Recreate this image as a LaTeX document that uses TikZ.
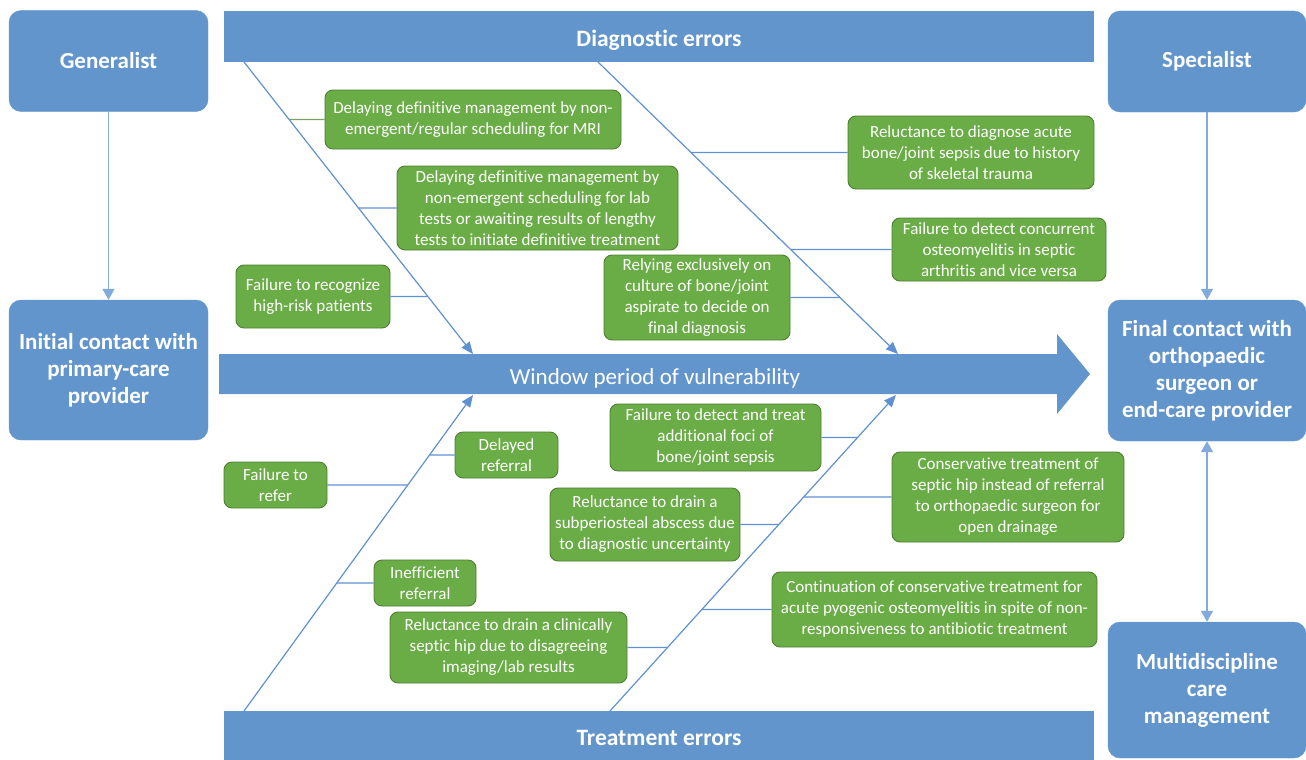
\documentclass[tikz,border=0pt]{standalone}
\usepackage{fontspec}
\setmainfont{Carlito}[Ligatures={NoCommon}]
\usetikzlibrary{arrows.meta}
\definecolor{fbblue}{RGB}{98,149,204}
\definecolor{fbline}{RGB}{95,145,210}
\definecolor{fbarrow}{RGB}{130,170,220}
\definecolor{fbgreen}{RGB}{106,173,70}
\definecolor{fbgreenD}{RGB}{80,126,50}
\definecolor{fbolive}{RGB}{125,160,105}
\begin{document}
\begin{tikzpicture}[x=1pt,y=-1pt,
  bluebox/.style={fill=fbblue, draw=fbblue, rounded corners=12pt, text=white,
    font=\bfseries\fontsize{23}{27}\selectfont, align=center, inner sep=0pt},
  bar/.style={fill=fbblue, text=white, font=\bfseries\fontsize{23.5}{27}\selectfont, inner sep=0pt,
    text height=20pt, text depth=0pt},
  gbox/.style={fill=fbgreen, draw=fbgreenD, line width=0.9pt, rounded corners=8pt, text=white,
    font=\fontsize{17}{21}\selectfont, align=center, inner sep=0pt},
  bone/.style={draw=fbline, line width=1.2pt},
  tip/.style={-{Triangle[length=12pt,width=10pt]}},
  flow/.style={draw=fbarrow, line width=1.5pt, -{Triangle[length=11pt,width=12pt]}}]
\useasboundingbox (0,0) rectangle (1306,760);

% blue boxes
\node[bluebox, minimum width=199pt, minimum height=101pt] (gen) at (108.5,61) {Generalist};
\node[bluebox, minimum width=199pt, minimum height=140pt] (init) at (108.5,370) {Initial contact with\\primary-care\\provider};
\node[bluebox, minimum width=198pt, minimum height=101pt] (spec) at (1207,61.5) {Specialist};
\node[bluebox, minimum width=198pt, minimum height=141pt] (final) at (1207,370.5) {Final contact with\\orthopaedic\\surgeon or\\end-care provider};
\node[bluebox, minimum width=198pt, minimum height=136pt] (multi) at (1207,690) {Multidiscipline\\care\\management};

% bars
\node[bar, minimum width=870pt, minimum height=51pt] (diag) at (659,36.5) {Diagnostic errors};
\node[bar, minimum width=870pt, minimum height=49pt] (treat) at (659,735.5) {Treatment errors};

% main arrow
\fill[fbblue] (219,354) -- (1057,354) -- (1057,334) -- (1090,374) -- (1057,414) -- (1057,394) -- (219,394) -- cycle;
\node[text=white, font=\fontsize{23}{27}\selectfont, inner sep=0pt, text height=16pt, text depth=0pt] (win) at (655,376) {Window period of vulnerability};

% flow arrows
\draw[flow] (gen) -- (init);
\draw[flow] (spec) -- (final);
\draw[flow, {Triangle[length=11pt,width=12pt]}-{Triangle[length=11pt,width=12pt]}] (final) -- (multi);

% fishbone lines
\coordinate (d1s) at (244,62);  \coordinate (d1e) at (473,354);
\coordinate (d2s) at (598,62);  \coordinate (d2e) at (898,354);
\coordinate (t1s) at (244,711); \coordinate (t1e) at (473,395);
\coordinate (t2s) at (610,711); \coordinate (t2e) at (896,395);
\draw[bone, tip] (d1s) -- (d1e);
\draw[bone, tip] (d2s) -- (d2e);
\draw[bone, tip] (t1s) -- (t1e);
\draw[bone, tip] (t2s) -- (t2e);

% green boxes
\node[gbox, minimum width=296pt, minimum height=59pt] (b1) at (473,119.5) {Delaying definitive management by non-\\emergent/regular scheduling for MRI};
\node[gbox, minimum width=281pt, minimum height=84pt] (b2) at (537.5,208) {Delaying definitive management by\\non-emergent scheduling for lab\\tests or awaiting results of lengthy\\tests to initiate definitive treatment};
\node[gbox, minimum width=154pt, minimum height=63pt] (b3) at (313,296.5) {Failure to recognize\\high-risk patients};
\node[gbox, minimum width=246pt, minimum height=73pt] (b4) at (971,152.5) {Reluctance to diagnose acute\\bone/joint sepsis due to history\\of skeletal trauma};
\node[gbox, minimum width=214pt, minimum height=63pt] (b5) at (999,249.5) {Failure to detect concurrent\\osteomyelitis in septic\\arthritis and vice versa};
\node[gbox, minimum width=186pt, minimum height=85pt] (b6) at (697,297.5) {Relying exclusively on\\culture of bone/joint\\aspirate to decide on\\final diagnosis};
\node[gbox, minimum width=211pt, minimum height=67pt] (b7) at (715.5,437.5) {Failure to detect and treat\\additional foci of\\bone/joint sepsis};
\node[gbox, minimum width=232pt, minimum height=90pt] (b8) at (1008,497) {Conservative treatment of\\septic hip instead of referral\\to orthopaedic surgeon for\\open drainage};
\node[gbox, minimum width=190pt, minimum height=73pt] (b9) at (645,524.5) {Reluctance to drain a\\subperiosteal abscess due\\to diagnostic uncertainty};
\node[gbox, minimum width=325pt, minimum height=75pt] (b10) at (934.5,609.5) {Continuation of conservative treatment for\\acute pyogenic osteomyelitis in spite of non-\\responsiveness to antibiotic treatment};
\node[gbox, minimum width=237pt, minimum height=71pt] (b11) at (508.5,647.5) {Reluctance to drain a clinically\\septic hip due to disagreeing\\imaging/lab results};
\node[gbox, minimum width=103pt, minimum height=46pt] (b12) at (506.5,455) {Delayed\\referral};
\node[gbox, minimum width=103pt, minimum height=46pt] (b13) at (275.5,485) {Failure to\\refer};
\node[gbox, minimum width=102pt, minimum height=46pt] (b14) at (425,583) {Inefficient\\referral};

% branch lines
\draw[bone, draw=fbolive] (b1.west) -- (intersection of b1.west--b1.east and d1s--d1e);
\draw[bone] (b2.west) -- (intersection of b2.west--b2.east and d1s--d1e);
\draw[bone] (b3.east) -- (intersection of b3.west--b3.east and d1s--d1e);
\draw[bone] (b4.west) -- (intersection of b4.west--b4.east and d2s--d2e);
\draw[bone] (b5.west) -- (intersection of b5.west--b5.east and d2s--d2e);
\draw[bone] (b6.east) -- (intersection of b6.west--b6.east and d2s--d2e);
\draw[bone] (b7.east) -- (intersection of b7.west--b7.east and t2s--t2e);
\draw[bone] (b8.west) -- (intersection of b8.west--b8.east and t2s--t2e);
\draw[bone] (b9.east) -- (intersection of b9.west--b9.east and t2s--t2e);
\draw[bone] (b10.west) -- (intersection of b10.west--b10.east and t2s--t2e);
\draw[bone] (b11.east) -- (intersection of b11.west--b11.east and t2s--t2e);
\draw[bone] (b12.west) -- (intersection of b12.west--b12.east and t1s--t1e);
\draw[bone] (b13.east) -- (intersection of b13.west--b13.east and t1s--t1e);
\draw[bone] (b14.west) -- (intersection of b14.west--b14.east and t1s--t1e);
\end{tikzpicture}
\end{document}
